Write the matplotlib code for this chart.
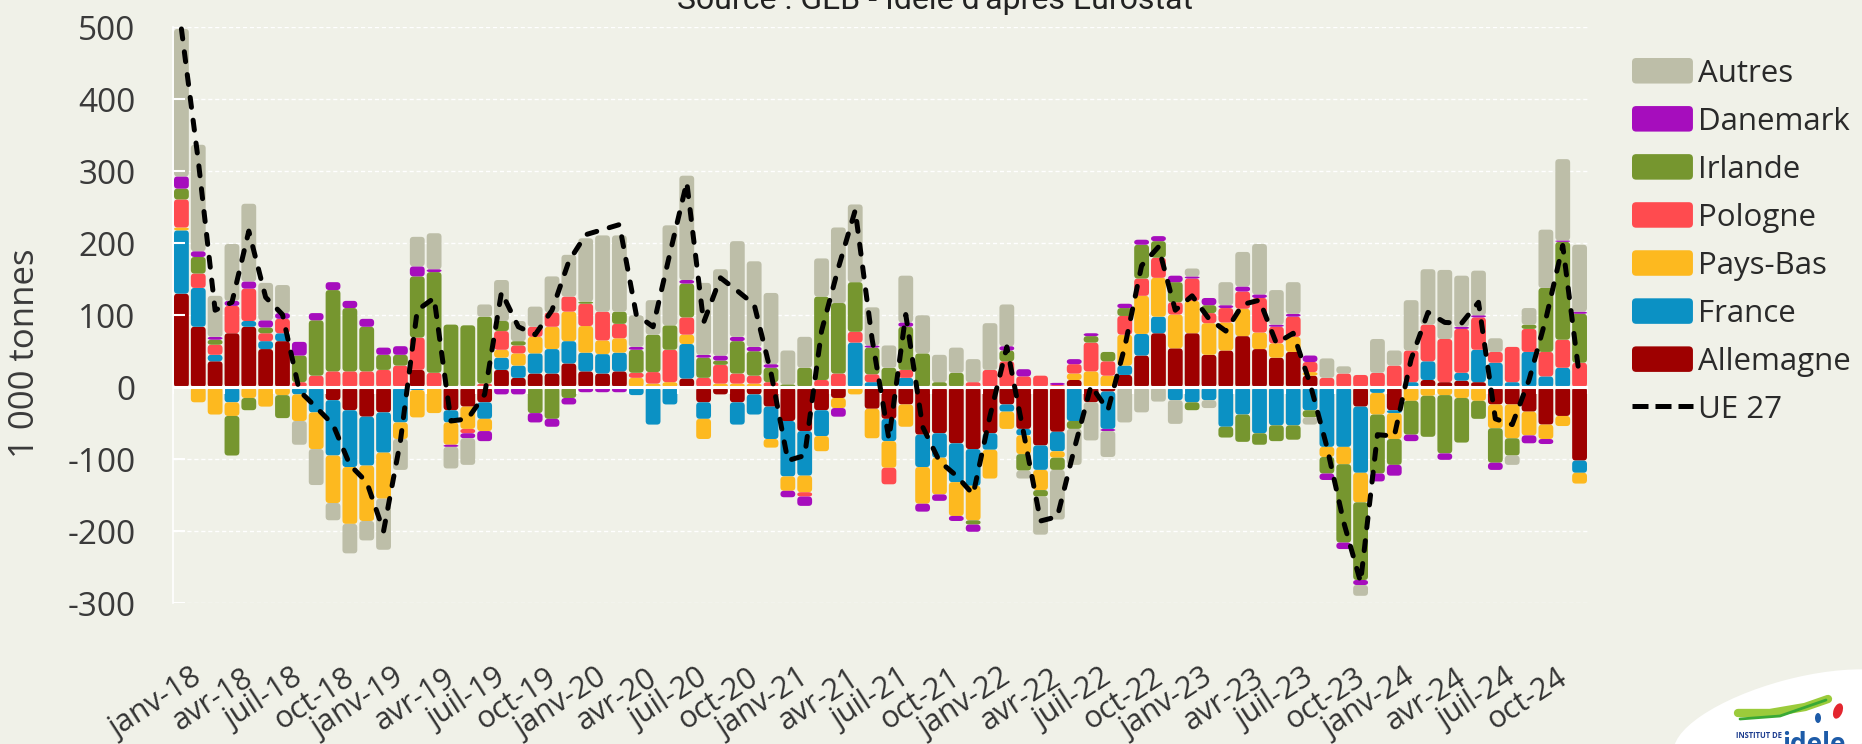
import matplotlib
matplotlib.use("Agg")
import matplotlib.pyplot as plt
import numpy as np
from matplotlib.patches import FancyBboxPatch, Patch, Ellipse
from matplotlib.lines import Line2D
from matplotlib.legend_handler import HandlerPatch
from matplotlib.transforms import IdentityTransform, ScaledTranslation

plt.rcParams['font.family'] = ['Open Sans', 'DejaVu Sans']

# ---------------- data (1 000 tonnes) ----------------
month_abbr = ["janv", "févr", "mars", "avr", "mai", "juin",
              "juil", "août", "sept", "oct", "nov", "déc"]
years = ["18", "19", "20", "21", "22", "23", "24"]
months = [f"{m}-{y}" for y in years for m in month_abbr]

allemagne = [130, 84, 36, 75, 84, 53, 64, 0, 0, -18, -32, -41,
             -35, 0, 24, 0, -32, -27, -21, 24, 13, 19, 19, 33,
             22, 19, 22, 0, 0, 0, 12, -21, -10, -21, -10, -27,
             -47, -61, -32, -15, 0, -30, -44, -24, -66, -64, -78, -86,
             -64, -24, -58, -81, -62, 10, -21, -6, 17, 44, 75, 54,
             75, 45, 51, 71, 53, 41, 49, 16, 0, 0, -27, 0,
             -32, 0, 10, 7, 9, 7, -24, -24, -34, -52, -40, -102]
france = [88, 54, 9, -21, 8, 11, 11, -10, -35, -77, -79, -68,
          -56, -49, -4, 0, -17, 0, -23, 17, 17, 28, 34, 31,
          26, 27, 26, -11, -52, -24, 48, -23, 0, -31, -28, -45,
          -77, -62, -36, 0, 62, 7, -31, 13, -45, -34, -54, -51,
          -23, -10, -9, -34, -27, -47, 0, -52, 13, 30, 23, -18,
          -21, -18, -55, -38, -64, -53, -53, -32, -83, -83, -92, -8,
          -4, 7, 26, 0, 11, 45, 34, 7, 49, 15, 27, -17]
pays_bas = [4, -21, -38, -19, -15, -27, -11, -37, -51, -66, -79, -77,
            -64, -23, -38, -36, -31, -31, -17, 11, 17, 23, 31, 41,
            37, 19, 20, 13, 5, 7, 13, -28, 5, 5, 5, -12,
            -20, -23, -21, -14, -10, -41, -37, -31, -51, -51, -47, -48,
            -40, -24, -26, -28, -9, 9, 22, 16, 43, 53, 54, 47,
            45, 44, 39, 38, 23, 20, 21, 5, -14, -24, -41, -30,
            -36, -19, -12, -11, -15, -19, -33, -47, -33, -20, -14, -15]
pologne = [39, 20, 14, 38, 45, 11, 20, 7, 16, 22, 22, 22,
           24, 30, 45, 20, 0, -6, 5, 26, 11, 14, 20, 21,
           31, 40, 20, 7, 16, 45, 24, 13, 26, 14, 11, 7,
           0, -6, 10, 19, 15, 11, -23, 11, 0, 0, 0, 7,
           24, 36, 15, 16, 3, 13, 40, 20, 26, 24, 28, 17,
           31, 14, 20, 24, 48, 23, 28, 14, 13, 19, 17, 20,
           30, 44, 51, 60, 61, 45, 15, 49, 32, 34, 39, 34]
irlande = [15, 23, 7, -55, -17, 8, -32, 37, 77, 113, 88, 62,
           21, 15, 85, 140, 87, 86, 93, 14, 6, -36, -44, -15,
           3, 0, 17, 32, 52, 34, 47, 28, 6, 45, 34, 20,
           4, 27, 116, 98, 69, 37, 27, 60, 47, 7, 20, -6,
           0, 15, -23, -9, -17, -11, 9, 13, 11, 47, 23, 28,
           -11, 11, -15, -38, -16, -22, -20, -10, -23, -109, -108, -82,
           -36, -47, -57, -81, -62, -25, -48, -24, 6, 89, 136, 68]
danemark = [17, 8, 4, 7, 10, 10, 8, 19, 10, 11, 10, 11,
            10, 12, 14, 4, -3, -7, -14, -10, -10, -13, -11, -9,
            -7, -7, -7, 4, 0, 0, 5, 4, 7, 6, 6, 5,
            -9, -13, 0, -12, 0, 3, 0, 6, -11, -9, -7, -10,
            0, 6, 10, 0, 3, 7, 4, -3, 6, 7, 7, 9,
            3, 10, 4, 7, 5, 3, 4, 9, -9, -9, -7, -11,
            -15, -9, 0, -9, 3, 3, -10, 0, -11, -7, 2, 3]
autres = [205, 148, 57, 79, 108, 52, 39, -33, -50, -24, -41, -27,
          -71, -43, 41, 50, -30, -37, 17, 57, 28, 28, 50, 58,
          88, 106, 106, 44, 48, 139, 145, 100, 120, 133, 119, 99,
          47, 43, 53, 105, 108, 53, 31, 65, 53, 38, 35, 32,
          65, 58, -11, -53, -69, -50, -53, -36, -49, -35, -20, -33,
          11, -11, 32, 48, 70, 48, 44, -10, 27, 10, -15, 47,
          21, 70, 77, 96, 71, 62, 19, -13, 23, 81, 113, 93]
ue27 = [498, 315, 107, 118, 217, 125, 101, -5, -28, -52, -108, -132,
        -200, -75, 107, 124, -47, -44, -10, 132, 84, 73, 107, 175,
        212, 219, 226, 101, 84, 186, 285, 90, 152, 134, 115, 20,
        -102, -95, 78, 166, 246, 67, -72, 101, -55, -103, -123, -149,
        -40, 56, -64, -186, -180, -86, 2, -32, 56, 169, 195, 107,
        127, 95, 78, 115, 121, 61, 75, 5, -83, -188, -271, -66,
        -68, 39, 104, 90, 89, 118, -44, -52, 10, 95, 197, 13]

y_ticks = [-300, -200, -100, 0, 100, 200, 300, 400, 500]

series = [
    ("Allemagne", allemagne, "#9E0000"),
    ("France", france, "#0B91C4"),
    ("Pays-Bas", pays_bas, "#FDB91F"),
    ("Pologne", pologne, "#FF4B4F"),
    ("Irlande", irlande, "#76962F"),
    ("Danemark", danemark, "#A60DBD"),
    ("Autres", autres, "#BDBEA8"),
]

BG = "#F0F1E8"
W_PX, H_PX = 1862, 744
AX_L, AX_R, AX_T, AX_B = 173, 1588, 27.5, 603

fig = plt.figure(figsize=(W_PX / 100, H_PX / 100), dpi=100, facecolor=BG)
ax = fig.add_axes([AX_L / W_PX, 1 - AX_B / H_PX,
                   (AX_R - AX_L) / W_PX, (AX_B - AX_T) / H_PX])
ax.set_facecolor(BG)

n = len(months)
x = np.arange(n)
ax.set_xlim(-0.5, n - 0.5)
ax.set_ylim(y_ticks[0], y_ticks[-1])

px_x = (AX_R - AX_L) / n
px_y = (AX_B - AX_T) / (y_ticks[-1] - y_ticks[0])
R = 3.5  # rounding radius in pixels
BW = 0.88


def round_bar(rect, color):
    x0, y0 = rect.get_x(), rect.get_y()
    w, h = rect.get_width(), rect.get_height()
    rect.remove()
    if h < 0:
        y0 += h
        h = -h
    if h <= 0:
        return
    rx = min(R / px_x, w / 2)
    ry = min(R / px_y, h / 2)
    p = FancyBboxPatch((x0, y0), w, h,
                       boxstyle=f"round,pad=0,rounding_size={rx:.5f}",
                       mutation_aspect=ry / rx, fc=color, ec="none",
                       zorder=2)
    ax.add_patch(p)


pos_b = np.zeros(n)
neg_b = np.zeros(n)
for name, vals, col in series:
    v = np.array(vals, dtype=float)
    bottom = np.where(v >= 0, pos_b, neg_b)
    bars = ax.bar(x, v, BW, bottom=bottom, color=col, linewidth=0, zorder=2)
    for rect in list(bars):
        round_bar(rect, col)
    pos_b += np.where(v > 0, v, 0)
    neg_b += np.where(v < 0, v, 0)

# zero line and category tick marks
ax.axhline(0, color="white", lw=2.2, zorder=3)
ax.vlines(np.arange(-0.5, n, 3), 0, -10, color="white", lw=1.5, zorder=3)

# UE 27 line
ax.plot(x, ue27, color="black", lw=3.6, linestyle=(0, (2.0, 2.6)),
        dash_capstyle="round", zorder=5, clip_on=False)

# grid & axes styling
ax.set_axisbelow(True)
ax.yaxis.grid(True, color="white", lw=1.0, linestyle=(0, (3, 2)))
ax.set_yticks(y_ticks)
ax.set_yticklabels([str(t) for t in y_ticks])
ax.tick_params(axis="y", length=0, pad=27, labelsize=24, labelcolor="#3a3a3a")
ax.hlines([t for t in y_ticks if t != 0], -0.5, 0.2, color="white",
          lw=1.5, zorder=3)
for s in ["top", "right", "bottom"]:
    ax.spines[s].set_visible(False)
ax.spines["left"].set_color("white")
ax.spines["left"].set_linewidth(1.2)

ax.set_xticks(x[::3])
ax.set_xticklabels(months[::3], rotation=33, ha="right", va="top",
                   rotation_mode="anchor")
ax.tick_params(axis="x", length=0, pad=43, labelsize=22, labelcolor="#333333")
shift = ScaledTranslation(10 / 100, 0, fig.dpi_scale_trans)
for lab in ax.get_xticklabels():
    lab.set_transform(lab.get_transform() + shift)

ax.set_ylabel("1 000 tonnes", fontsize=25, color="#3a3a3a")
ax.yaxis.set_label_coords((42 - AX_L) / (AX_R - AX_L), (AX_B - 353) / (AX_B - AX_T))

# title (partly clipped by the top edge, as in the original)
fig.text(935 / W_PX, 1 - 9 / H_PX, "Source : GEB - Idele d'après Eurostat",
         ha="center", va="baseline", fontsize=23, color="#222222",
         family=["Roboto", "DejaVu Sans"])


# legend
class RoundHandler(HandlerPatch):
    def create_artists(self, legend, orig_handle, xdescent, ydescent,
                       width, height, fontsize, trans):
        p = FancyBboxPatch((-xdescent, -ydescent), width, height,
                           boxstyle="round,pad=0,rounding_size=3",
                           fc=orig_handle.get_facecolor(), ec="none",
                           transform=trans)
        return [p]


handles, labels = [], []
for name, vals, col in reversed(series):
    handles.append(Patch(facecolor=col))
    labels.append(name)
handles.append(Line2D([0], [0], color="black", lw=3.6,
                      linestyle=(0, (3.2, 1.4)), dash_capstyle="butt"))
labels.append("UE 27")
fig.legend(handles, labels, loc="upper left",
           bbox_to_anchor=(1632 / W_PX, 1 - 58 / H_PX),
           frameon=False, fontsize=22.5, handlelength=1.95, handleheight=0.88,
           handletextpad=0.15, labelspacing=0.56, borderpad=0,
           borderaxespad=0, labelcolor="#2a2a2a",
           handler_map={Patch: RoundHandler()})

# logo (approximation)
idt = IdentityTransform()
fig.add_artist(Ellipse((1795, 22), 250, 86, angle=15, fc="white",
                       ec="none", transform=idt))
fig.add_artist(Line2D([1738, 1770, 1805, 1828], [744 - 713, 744 - 713, 744 - 707, 744 - 699],
                      color="#9BCB3B", lw=6, transform=idt, solid_capstyle="round"))
fig.add_artist(Line2D([1740, 1780, 1826], [744 - 719, 744 - 716, 744 - 700],
                      color="#3AA935", lw=2, transform=idt, solid_capstyle="round"))
fig.add_artist(Ellipse((1838, 744 - 711), 9, 16, angle=-20, fc="#E3262F",
                       ec="none", transform=idt))
fig.add_artist(Ellipse((1818, 744 - 718), 6, 10, fc="#1D5BA8",
                       ec="none", transform=idt))
fig.text(1736 / W_PX, 1 - 738 / H_PX, "INSTITUT DE", fontsize=5.5,
         fontweight="bold", color="#1D3D8F", ha="left", va="baseline")
fig.text(1782 / W_PX, 1 - 752 / H_PX, "idele", fontsize=19,
         fontweight="bold", color="#1D5BA8", ha="left", va="baseline")

fig.savefig("out.png", dpi=100, facecolor=BG)
